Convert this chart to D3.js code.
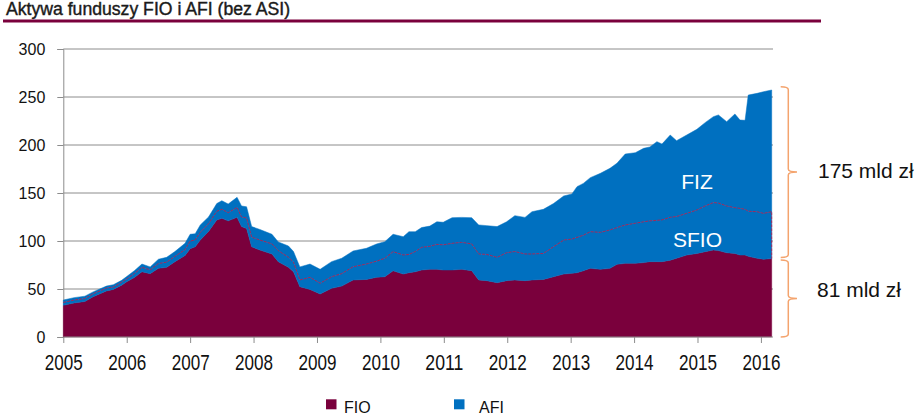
<!DOCTYPE html>
<html><head><meta charset="utf-8">
<script src="https://cdn.jsdelivr.net/npm/d3@7"></script>
<style>body{margin:0;background:#fff}svg{display:block}</style>
</head><body><svg id="c" width="923" height="420"></svg>
<script>
const title = "Aktywa funduszy FIO i AFI (bez ASI)";
const years = [2005.00,2005.17,2005.34,2005.47,2005.68,2005.79,2005.92,2006.00,2006.12,2006.24,2006.37,2006.50,2006.63,2006.76,2006.92,2007.00,2007.08,2007.16,2007.29,2007.42,2007.50,2007.60,2007.74,2007.81,2007.89,2007.97,2008.10,2008.29,2008.39,2008.55,2008.63,2008.73,2008.89,2009.05,2009.23,2009.39,2009.57,2009.78,2009.94,2010.07,2010.20,2010.36,2010.45,2010.55,2010.65,2010.78,2010.89,2010.99,2011.13,2011.28,2011.44,2011.55,2011.68,2011.84,2011.99,2012.12,2012.28,2012.39,2012.57,2012.73,2012.89,2013.02,2013.10,2013.20,2013.31,2013.47,2013.62,2013.73,2013.86,2014.02,2014.15,2014.25,2014.36,2014.44,2014.57,2014.67,2014.83,2014.99,2015.12,2015.25,2015.33,2015.46,2015.59,2015.67,2015.75,2015.80,2015.94,2016.04,2016.17];
const fio = [33,35.5,37,42,48,49.6,54,57.6,62,68,66,71.5,72.6,78.5,85,92,94,101,110,122,123.6,121,124.7,115,113,94,90.6,86.5,78.5,72.6,68,52.4,49.6,44.8,50.7,53,59.4,60,62.2,62.8,69,65.6,67,68,69.8,70.5,70.5,69.8,69.8,70.5,69.1,59.4,58.7,56.6,58.7,59.4,58.7,59.4,60,62.8,65.6,66.3,67,69,71.5,70.5,71.5,75.7,76.7,76.7,77.5,78.5,78.5,78.5,80,82,85.4,87,88.9,90.6,90,87.8,87,85.4,85.4,84,82,81,81.7];
const sfio = [3,3,3,3,3,2.4,3,2.9,4,4.5,4,5,5.4,5.5,6,8,7,8,8,9,9.4,8.5,10.3,10,11,10,10.4,10.5,11.5,10.4,10,7,12.6,11.2,12.1,13,13.8,16,16.8,19.2,19.9,19.8,19,21,23.6,24,26,26.2,27.8,28.1,27.9,27.1,27.3,26.4,29.1,29.6,27.8,27.1,27,31.2,35.4,35.7,36.8,37,38.2,38.5,40,38.3,40,41.8,42.5,42.5,43,43.5,44.7,43.5,43.4,45.3,47.6,49.4,49.5,48.7,47.7,48.6,47.6,47,48.5,47.8,48.8];
const fiz = [2.5,2.5,2.5,2,2,2.5,2,2.5,3,3.5,3,4.5,5,5,6.6,7,6.5,7.7,7,8,9,9,10.5,11.5,11.6,11,11,10,9,11.8,11,13.6,13.8,14.5,15.7,16,16.4,16.4,17.9,17.3,18.1,19.1,23.7,20.7,20.6,21,23.5,23.5,26.7,26,27.3,30.2,30,32,32.2,37.4,38.1,44,46,45,45.9,47,52.8,54,56.3,61.5,64.2,67,73.9,73.5,76.5,77,82,79,85.7,79,81.6,84,86.8,89.5,91.8,87.8,97.6,92,92.7,121,123.3,126.7,126.8];
const yTicks = [0,50,100,150,200,250,300];
const xTicks = [2005,2006,2007,2008,2009,2010,2011,2012,2013,2014,2015,2016];
const legendLabels = ["FIO","AFI"];
const areaLabels = ["FIZ","SFIO"];
const noteLabels = ["175 mld zł","81 mld zł"];

const colFIO = "#7a003c", colAFI = "#0070c0", colBrace = "#f4a46e";
const svg = d3.select("#c");

const x = d3.scaleLinear().domain([2005, 2016.17]).range([63.3, 771.7]);
const y = d3.scaleLinear().domain([0, 300]).range([337, 49]);

// title
svg.append("text").attr("x", 6).attr("y", 14.5).text(title)
  .attr("font-family", "Liberation Sans, Arial, sans-serif").attr("font-size", 17.5)
  .attr("textLength", 284).attr("lengthAdjust", "spacingAndGlyphs")
  .attr("fill", "#1a1a1a").attr("stroke", "#1a1a1a").attr("stroke-width", 0.4);
svg.append("rect").attr("x", 3).attr("y", 19.5).attr("width", 818).attr("height", 3).attr("fill", colFIO);

// gridlines
svg.append("g").selectAll("line").data(yTicks.filter(d => d > 0)).join("line")
  .attr("x1", 63.3).attr("x2", 773).attr("y1", d => y(d)).attr("y2", d => y(d))
  .attr("stroke", "#8c8c8c").attr("stroke-width", 1);

// y axis
const yAxis = svg.append("g").attr("transform", "translate(63.3,0)")
  .call(d3.axisLeft(y).tickValues(yTicks).tickSize(6).tickPadding(12));
yAxis.select(".domain").attr("stroke", "#8c8c8c");
yAxis.selectAll(".tick line").attr("stroke", "#8c8c8c");
yAxis.selectAll("text").attr("font-family", "Liberation Sans, Arial, sans-serif").attr("font-size", 16).attr("fill", "#111");

// stacked data
const rows = years.map((t, i) => ({t, fio: fio[i], sfio: sfio[i], fiz: fiz[i]}));
const stack = d3.stack().keys(["fio", "sfio", "fiz"])(rows);
const area = d3.area().x(d => x(d.data.t)).y0(d => y(d[0])).y1(d => y(d[1]));
const colors = {fio: colFIO, sfio: colAFI, fiz: colAFI};
svg.append("g").selectAll("path").data(stack).join("path")
  .attr("d", area).attr("fill", d => colors[d.key]).attr("stroke", d => colors[d.key]).attr("stroke-width", 0.5);

// SFIO boundary line
const sLayer = stack[1];
const linePts = sLayer.map(d => [x(d.data.t), y(d[1])]);
const last = sLayer[sLayer.length - 1];
linePts.push([x(last.data.t), y(last[0])]);
svg.append("path").attr("d", d3.line()(linePts)).attr("fill", "none")
  .attr("stroke", "#a0285a").attr("stroke-width", 1).attr("stroke-dasharray", "3,1");

// x axis
const xAxis = svg.append("g").attr("transform", "translate(0,337)")
  .call(d3.axisBottom(x).tickValues(xTicks).tickFormat(d3.format("d")).tickSize(6).tickPadding(11).tickSizeOuter(0));
xAxis.select(".domain").attr("stroke", "#8c8c8c").attr("d", "M63.3,0H773");
xAxis.selectAll(".tick line").attr("stroke", "#8c8c8c");
xAxis.selectAll("text").attr("font-family", "Liberation Sans, Arial, sans-serif")
  .attr("font-size", 22).attr("fill", "#111")
  .attr("textLength", 38).attr("lengthAdjust", "spacingAndGlyphs");

// area labels
const lab = svg.append("g").attr("font-family", "Liberation Sans, Arial, sans-serif").attr("font-size", 21).attr("fill", "#fff").attr("text-anchor", "middle");
lab.append("text").attr("x", 697).attr("y", 188.5).text(areaLabels[0]);
lab.append("text").attr("x", 697.5).attr("y", 246.5).text(areaLabels[1]);

// braces
function brace(yTop, yBot) {
  const x0 = 780.7, x1 = 788.3, x2 = 797, r = 3, ym = (yTop + yBot) / 2;
  return `M${x0},${yTop}Q${x1},${yTop} ${x1},${yTop + r}L${x1},${ym - r}Q${x1},${ym} ${x2},${ym}Q${x1},${ym} ${x1},${ym + r}L${x1},${yBot - r}Q${x1},${yBot} ${x0},${yBot}`;
}
const endTotal = fio[fio.length - 1] + sfio[sfio.length - 1] + fiz[fiz.length - 1];
const endFio = fio[fio.length - 1];
svg.append("path").attr("d", brace(y(endTotal + 3.5), y(endFio + 1))).attr("fill", "none").attr("stroke", colBrace).attr("stroke-width", 1.5);
svg.append("path").attr("d", brace(y(endFio - 1.5), y(0))).attr("fill", "none").attr("stroke", colBrace).attr("stroke-width", 1.5);
const notes = svg.append("g").attr("font-family", "Liberation Sans, Arial, sans-serif").attr("font-size", 21).attr("fill", "#111");
notes.append("text").attr("x", 818).attr("y", 177.5).text(noteLabels[0]);
notes.append("text").attr("x", 817).attr("y", 297).text(noteLabels[1]);

// legend
const lg = svg.append("g");
const lx = [326, 454], tx = [344, 479], lc = [colFIO, colAFI];
legendLabels.forEach((s, i) => {
  lg.append("rect").attr("x", lx[i]).attr("y", 399.3).attr("width", 10.5).attr("height", 10).attr("fill", lc[i]);
  lg.append("text").attr("x", tx[i]).attr("y", 412.7).text(s)
    .attr("font-family", "Liberation Sans, Arial, sans-serif").attr("font-size", 16).attr("fill", "#111");
});
</script></body></html>
